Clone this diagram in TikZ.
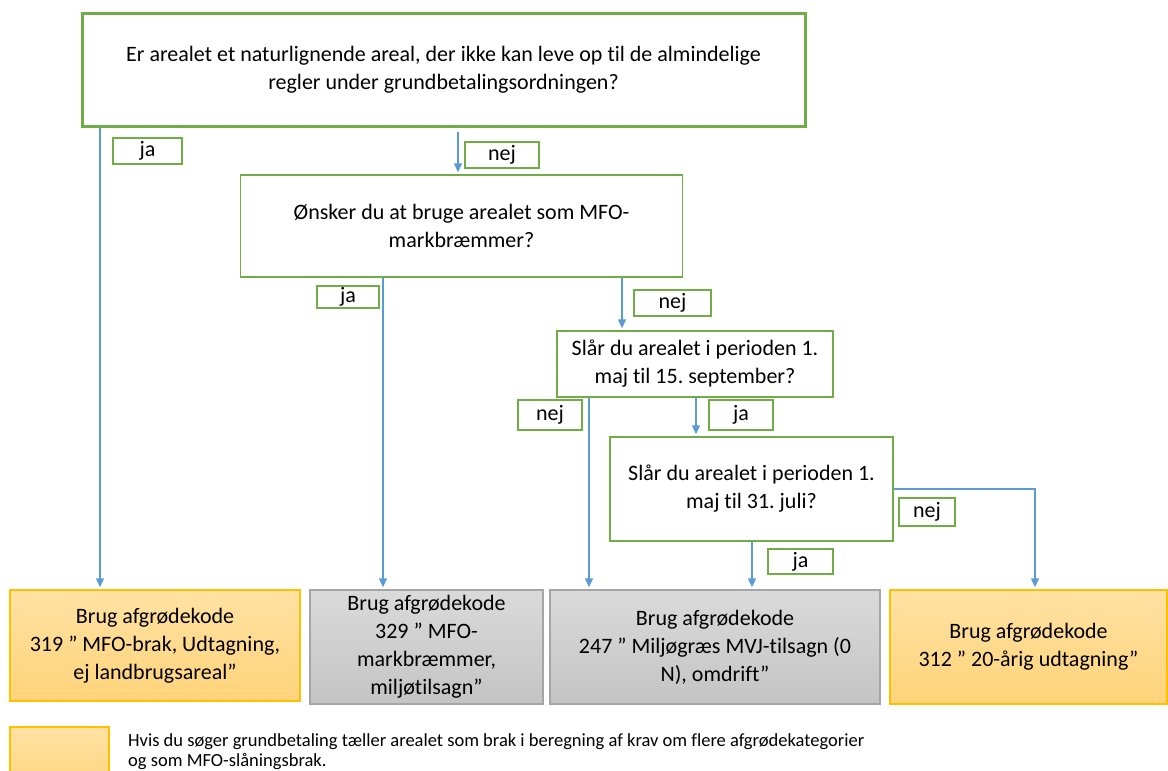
\documentclass[tikz,border=0pt]{standalone}
\usepackage{fontspec}
\setmainfont{Carlito}[Ligatures=NoCommon]
\usetikzlibrary{arrows.meta,calc}
\frenchspacing

\definecolor{qgreen}{HTML}{70AD47}
\definecolor{arrblue}{HTML}{5B9BD5}
\definecolor{braktop}{HTML}{FFE2A3}
\definecolor{brakbot}{HTML}{FFD37A}
\definecolor{brakedge}{HTML}{FFC000}
\definecolor{graytop}{HTML}{DADADA}
\definecolor{graybot}{HTML}{C4C4C4}
\definecolor{grayedge}{HTML}{A5A5A5}

\begin{document}
\begin{tikzpicture}[x=1pt,y=-1pt,
  font={\fontsize{22pt}{28pt}\selectfont},
  question/.style={draw=qgreen, line width=1.5pt, fill=white, align=center, inner sep=0pt},
  answer/.style={draw=qgreen, line width=1.5pt, inner sep=0pt},
  brak/.style={draw=brakedge, line width=1.5pt, top color=braktop, bottom color=brakbot, align=center, inner sep=0pt},
  other/.style={draw=grayedge, line width=1.5pt, top color=graytop, bottom color=graybot, align=center, inner sep=0pt},
  flow/.style={draw=arrblue, line width=1.5pt, arrows={-{Triangle[width=8pt,length=9pt]}}, shorten >=2pt}
  ]
  \useasboundingbox (0,0) rectangle (1168,771);

  % x positions of the arrows
  \coordinate (xa) at (100,0);
  \coordinate (xb) at (458,0);
  \coordinate (xc) at (383,0);
  \coordinate (xd) at (622,0);
  \coordinate (xe) at (589,0);
  \coordinate (xf) at (696,0);
  \coordinate (xg) at (752,0);
  \coordinate (xh) at (1035,0);

  % questions
  \node[question, line width=3pt, minimum width=723, minimum height=113] (q1) at (443.5,69.5)
    {Er arealet et naturlignende areal, der ikke kan leve op til de almindelige\\regler under grundbetalingsordningen?};
  \node[question, minimum width=442, minimum height=102] (q2) at (461.5,226)
    {Ønsker du at bruge arealet som MFO-\\markbræmmer?};
  \node[question, minimum width=276, minimum height=66] (q3) at (695,364)
    {Slår du arealet i perioden 1.\\maj til 15. september?};
  \node[question, minimum width=283, minimum height=104] (q4) at (751.5,489)
    {Slår du arealet i perioden 1.\\maj til 31. juli?};

  % answers
  \node[answer, minimum width=69, minimum height=26] (ja1) at (147.5,151) {ja};
  \node[answer, minimum width=74, minimum height=26] (nej1) at (502,155) {nej};
  \node[answer, minimum width=62, minimum height=22] (ja2) at (348,297) {ja};
  \node[answer, minimum width=77, minimum height=26] (nej2) at (672.5,303) {nej};
  \node[answer, minimum width=64, minimum height=30] (nej3) at (550,415) {nej};
  \node[answer, minimum width=64, minimum height=30] (ja3) at (741,415) {ja};
  \node[answer, minimum width=56, minimum height=28] (nej4) at (927,512) {nej};
  \node[answer, minimum width=65, minimum height=25] (ja4) at (800.5,561.5) {ja};

  % crop codes
  \node[brak, minimum width=290, minimum height=111] (k319) at (155,645.5)
    {Brug afgrødekode\\319 ” MFO-brak, Udtagning,\\ej landbrugsareal”};
  \node[other, minimum width=233, minimum height=114] (k329) at (426.5,647)
    {Brug afgrødekode\\329 ” MFO-\\markbræmmer,\\miljøtilsagn”};
  \node[other, minimum width=330, minimum height=114] (k247) at (715,647)
    {Brug afgrødekode\\247 ” Miljøgræs MVJ-tilsagn (0\\N), omdrift”};
  \node[brak, minimum width=277, minimum height=114] (k312) at (1028.5,647)
    {Brug afgrødekode\\312 ” 20-årig udtagning”};

  % legend
  \node[brak, minimum width=99, minimum height=68] (key) at (59.5,761) {};
  \node[anchor=north west, align=left, inner sep=0pt, font={\fontsize{18.5pt}{20pt}\selectfont}] (keytext) at (128,733)
    {Hvis du søger grundbetaling tæller arealet som brak i beregning af krav om flere afgrødekategorier\\og som MFO-slåningsbrak.};

  % arrows
  \draw[flow] (q1.south -| xa) -- (k319.north -| xa);
  \draw[flow, shorten <=4pt] (q1.south -| xb) -- (q2.north -| xb);
  \draw[flow] (q2.south -| xc) -- (k329.north -| xc);
  \draw[flow] (q2.south -| xd) -- (q3.north -| xd);
  \draw[flow] (q3.south -| xe) -- (k247.north -| xe);
  \draw[flow] (q3.south -| xf) -- (q4.north -| xf);
  \draw[flow] (q4.south -| xg) -- (k247.north -| xg);
  \draw[flow] (q4.east) -| (k312.north -| xh);
\end{tikzpicture}
\end{document}
